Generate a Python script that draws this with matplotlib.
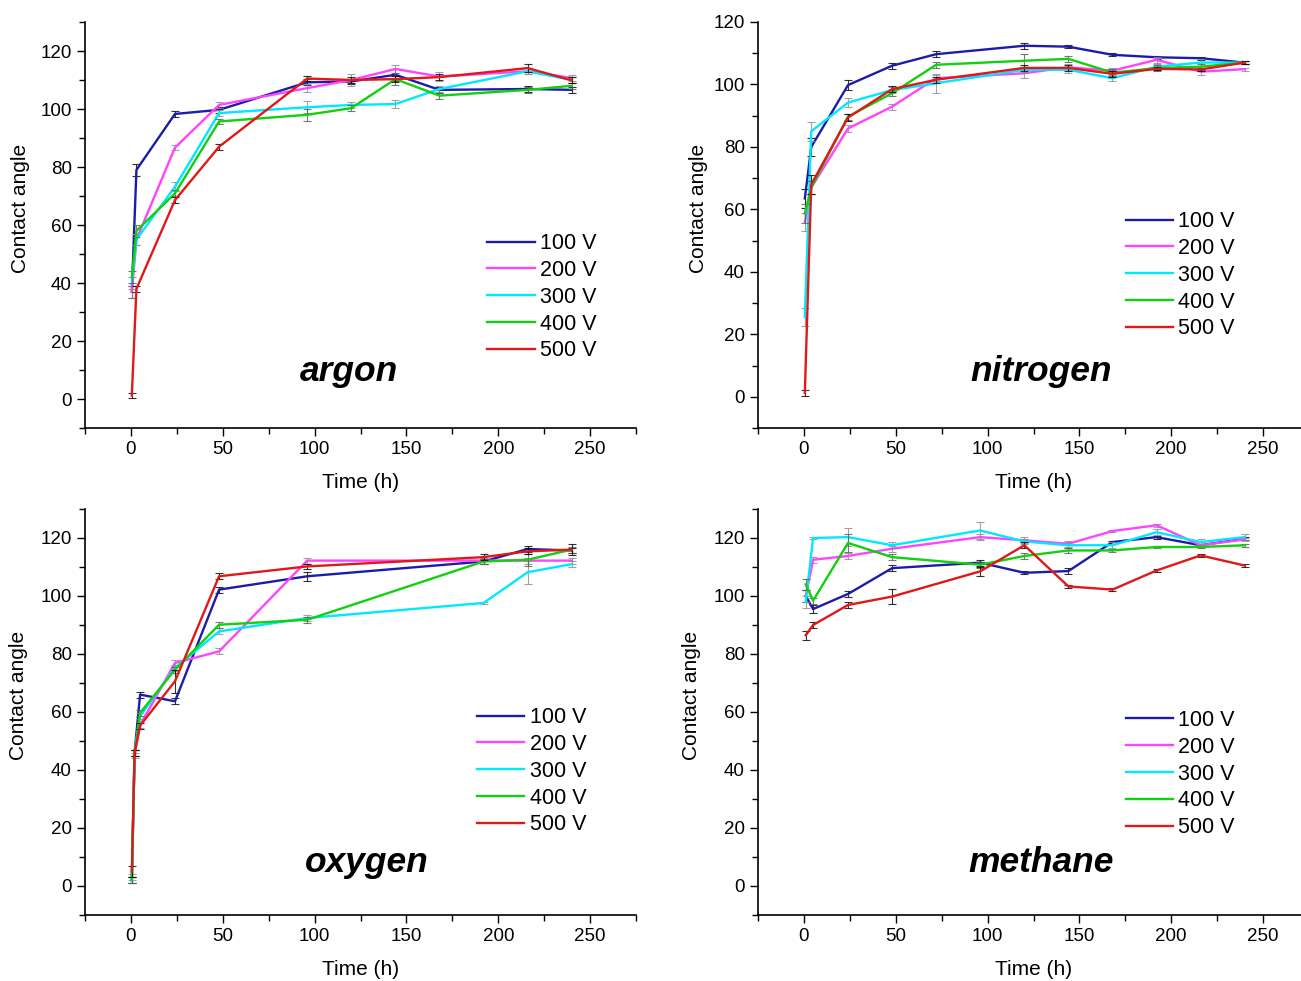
import numpy as np
import matplotlib.pyplot as plt
from matplotlib.ticker import MultipleLocator

plt.rcParams['font.family'] = ['Liberation Sans', 'DejaVu Sans']

voltages = ['100 V', '200 V', '300 V', '400 V', '500 V']
colors = ['#1c1ca8', '#ff44ff', '#00e8ff', '#10d010', '#e01818']
err_colors = ['black', '0.55', '0.55', '0.35', 'black']

# argon
argon_t = [0.5, 3, 24, 48, 96, 120, 144, 168, 216, 240]
argon_100 = [37, 79, 98.3, 99.7, 109.2, 109.5, 111.8, 106.6, 106.9, 106.6]
argon_200 = [37, 55, 86.7, 101.4, 107.2, 110, 113.8, 111.2, 113, 110.7]
argon_300 = [40, 55, 73.2, 98.6, 100.6, 101.4, 101.7, 106.9, 113, 110]
argon_400 = [42, 58, 70.9, 95.7, 98, 100.3, 110.3, 104.6, 106.6, 108]
argon_500 = [1.2, 38, 68.6, 87, 110.5, 110, 110.3, 111, 114.1, 109.9]
argon_err = [
    [2, 2, 1, 1, 1, 1, 2, 1, 1, 1],
    [2, 2, 1, 1, 1.5, 2, 1.5, 1.5, 1, 1],
    [2, 2, 1.5, 1, 2, 1, 1.5, 1, 1, 1],
    [2, 2, 1, 1, 2, 1, 2, 1, 1, 1],
    [1, 1, 1, 1, 1, 1, 1, 1, 1.5, 1],
]

# nitrogen
nitrogen_t = [0.5, 4, 24, 48, 72, 120, 144, 168, 192, 216, 240]
nitrogen_100 = [63.5, 80, 99.8, 106, 109.7, 112.4, 112.1, 109.5, 108.7, 108.4, 107]
nitrogen_200 = [56, 67, 85.9, 92.9, 102, 103.6, 105.5, 104.4, 107.9, 104.1, 104.9]
nitrogen_300 = [25.5, 85, 94.2, 98.2, 100.4, 104.7, 104.7, 102, 105.7, 107, 107]
nitrogen_400 = [58.6, 67, 89.7, 97.2, 106.3, 107.6, 108.2, 103.8, 105.2, 105.7, 107]
nitrogen_500 = [1.2, 68, 89.4, 98.5, 101.5, 105.3, 105.3, 103.4, 105, 104.8, 107]
nitrogen_err = [
    [3, 3, 1.5, 1, 1, 1, 0.5, 0.5, 0.5, 0.5, 0.5],
    [3, 2, 1, 1, 1, 1.5, 1, 1, 1, 1, 0.5],
    [3, 3, 1.5, 1, 3, 1, 1, 1, 1, 1, 0.5],
    [3, 2, 1, 1, 1, 2, 1, 1, 1, 1, 0.5],
    [1, 3, 1, 1, 1, 1, 1, 1, 0.5, 0.5, 0.5],
]

# oxygen
oxygen_t = [0.5, 2, 5, 24, 48, 96, 192, 216, 240]
oxygen_100 = [2, 46, 66, 63.7, 102.2, 106.8, 111.9, 116.2, 115.7]
oxygen_200 = [3, 45, 55.5, 76.9, 80.9, 112.2, 112.2, 112.2, 112.2]
oxygen_300 = [2, 46, 58.6, 75.2, 87.8, 92.4, 97.6, 108.2, 111]
oxygen_400 = [2, 46, 59.7, 74.6, 90.1, 91.8, 111.9, 112.5, 116]
oxygen_500 = [5, 46, 55.3, 70.6, 106.8, 110.2, 113.4, 115.4, 116]
oxygen_err = [
    [1, 1, 1, 1, 1, 1.5, 1, 1, 1],
    [1, 1, 1, 1, 1, 1, 1, 1, 1],
    [1, 1, 1, 1, 1, 1, 0.5, 4, 1],
    [1, 1, 1, 1, 1, 1, 1, 2, 1],
    [2, 1, 1, 4, 1, 1, 1, 1, 2],
]

# methane
methane_t = [1, 5, 24, 48, 96, 120, 144, 168, 192, 216, 240]
methane_100 = [100, 95.5, 100.7, 109.6, 111.5, 108, 108.6, 118.6, 120.3, 117.5, 119.8]
methane_200 = [100, 112.5, 113.8, 116.3, 120.3, 119.2, 118, 122.4, 124.4, 117.5, 119.5]
methane_300 = [98, 120, 120.3, 117.5, 122.6, 118.8, 117.5, 117.5, 122, 118.6, 120.3]
methane_400 = [104, 98.4, 118.3, 113.4, 110.8, 113.8, 115.7, 115.7, 116.9, 116.9, 117.5]
methane_500 = [86.5, 90, 96.9, 99.8, 108.5, 117.5, 103.3, 102.2, 108.8, 114, 110.5]
methane_err = [
    [2, 1.5, 1, 1, 1, 0.5, 1, 0.5, 0.5, 0.5, 0.5],
    [2, 1, 1, 1, 1, 1, 1, 0.5, 0.5, 0.5, 0.5],
    [2, 0.5, 3, 1, 3, 1, 1, 1, 1, 1, 1],
    [2, 1, 3, 1, 1, 1, 1, 0.5, 0.5, 0.5, 0.5],
    [1.5, 1, 1, 2.5, 1.5, 1, 0.5, 0.5, 0.5, 0.5, 0.5],
]

panels = [
    ('argon', argon_t, [argon_100, argon_200, argon_300, argon_400, argon_500], argon_err,
     130, [85, 22], (0.73, 0.48), (0.479, 0.14), -0.1),
    ('nitrogen', nitrogen_t, [nitrogen_100, nitrogen_200, nitrogen_300, nitrogen_400, nitrogen_500], nitrogen_err,
     120, [758, 22], (0.667, 0.534), (0.513, 0.14), -0.091),
    ('oxygen', oxygen_t, [oxygen_100, oxygen_200, oxygen_300, oxygen_400, oxygen_500], oxygen_err,
     130, [85, 509], (0.711, 0.512), (0.512, 0.13), -0.103),
    ('methane', methane_t, [methane_100, methane_200, methane_300, methane_400, methane_500], methane_err,
     130, [758, 509], (0.667, 0.505), (0.513, 0.13), -0.104),
]

W, H = 1301, 981
fig = plt.figure(figsize=(W / 100, H / 100), dpi=100)

for name, t, series, errs, ytop, (px, ptop), leg_pos, txt_pos, ylab_x in panels:
    ax = fig.add_axes([px / W, (H - (ptop + 406)) / H, 551 / W, 406 / H])
    for vals, e, c, ec, lab in zip(series, errs, colors, err_colors, voltages):
        ax.errorbar(t, vals, yerr=e, fmt='none', ecolor=ec, elinewidth=0.8,
                    capsize=3, capthick=0.8, alpha=0.8)
        ax.plot(t, vals, color=c, lw=1.7, label=lab)

    ax.set_xlim(-25, 275)
    ax.set_ylim(-10, ytop)
    ax.xaxis.set_major_locator(MultipleLocator(50))
    ax.xaxis.set_minor_locator(MultipleLocator(25))
    ax.yaxis.set_major_locator(MultipleLocator(20))
    ax.yaxis.set_minor_locator(MultipleLocator(10))
    ax.tick_params(which='both', direction='out', labelsize=13.5, width=1)
    ax.tick_params(which='major', length=6)
    ax.tick_params(which='minor', length=4)
    for s in ['top', 'right']:
        ax.spines[s].set_visible(False)
    for s in ['left', 'bottom']:
        ax.spines[s].set_linewidth(1.2)

    ax.set_xlabel('Time (h)', fontsize=15)
    ax.xaxis.set_label_coords(0.5, -0.112)
    ax.set_ylabel('Contact angle', fontsize=15)
    ax.yaxis.set_label_coords(ylab_x, 0.54)

    ax.legend(loc='upper left', bbox_to_anchor=leg_pos, frameon=False, fontsize=15.5,
              handlelength=2.2, handletextpad=0.25, labelspacing=0.27,
              borderaxespad=0, borderpad=0)
    ax.text(txt_pos[0], txt_pos[1], name, transform=ax.transAxes, ha='center', va='center',
            fontsize=25.5, fontweight='bold', fontstyle='italic')

fig.savefig('out.png', dpi=100)
